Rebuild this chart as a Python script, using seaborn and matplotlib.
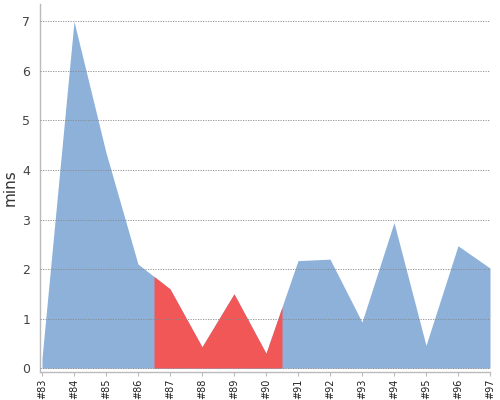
import numpy as np
import pandas as pd
import matplotlib
matplotlib.use('Agg')
import matplotlib.pyplot as plt
import seaborn as sns

# dados
runs = ['#83', '#84', '#85', '#86', '#87', '#88', '#89', '#90',
        '#91', '#92', '#93', '#94', '#95', '#96', '#97']
mins = [0.2, 7.0, 4.35, 2.1, 1.6, 0.43, 1.5, 0.3,
        2.17, 2.2, 0.93, 2.94, 0.46, 2.47, 2.02]
# faixa destacada (entre #86 e #87 até entre #90 e #91)
highlight = ('#86', '#90')

blue = '#8EB1DA'
red = '#F25757'

sns.set_style('white')
df = pd.DataFrame({'run': runs, 'mins': mins})
df['pos'] = np.arange(len(runs))

fig = plt.figure(figsize=(5, 4), dpi=100)
ax = fig.add_axes([0.08, 0.071, 0.90, 0.919])

sns.lineplot(data=df, x='pos', y='mins', ax=ax, color=blue, linewidth=0)
ax.fill_between(df['pos'], 0, df['mins'], color=blue, linewidth=0, zorder=1)

# trecho vermelho
x0 = runs.index(highlight[0]) + 0.5
x1 = runs.index(highlight[1]) + 0.5
xs = np.linspace(x0, x1, 400)
ax.fill_between(xs, 0, np.interp(xs, df['pos'], df['mins']), color=red, linewidth=0, zorder=1.5)

ax.set_xlim(-0.0625, len(runs) - 1)
ax.set_ylim(-0.07, 7.35)
ax.set_xticks(df['pos'])
ax.set_xticklabels(runs, rotation=90, fontsize=7, color='#222222')
ax.set_yticks(range(0, 8))
ax.tick_params(axis='y', labelsize=9, labelcolor='#444444', length=0, pad=7)
ax.tick_params(axis='x', length=3, color='#bbbbbb', pad=2, bottom=True)
ax.set_xlabel('')
ax.set_ylabel('mins', fontsize=11, color='#333333', labelpad=3)

ax.set_axisbelow(False)
ax.yaxis.grid(True, linestyle=(0, (1.5, 1.5)), color='#888888', linewidth=0.6, zorder=3)
ax.xaxis.grid(False)
for s in ['top', 'right']:
    ax.spines[s].set_visible(False)
for s in ['left', 'bottom']:
    ax.spines[s].set_color('#bbbbbb')
    ax.spines[s].set_linewidth(1)

fig.savefig('out.png', dpi=100)
